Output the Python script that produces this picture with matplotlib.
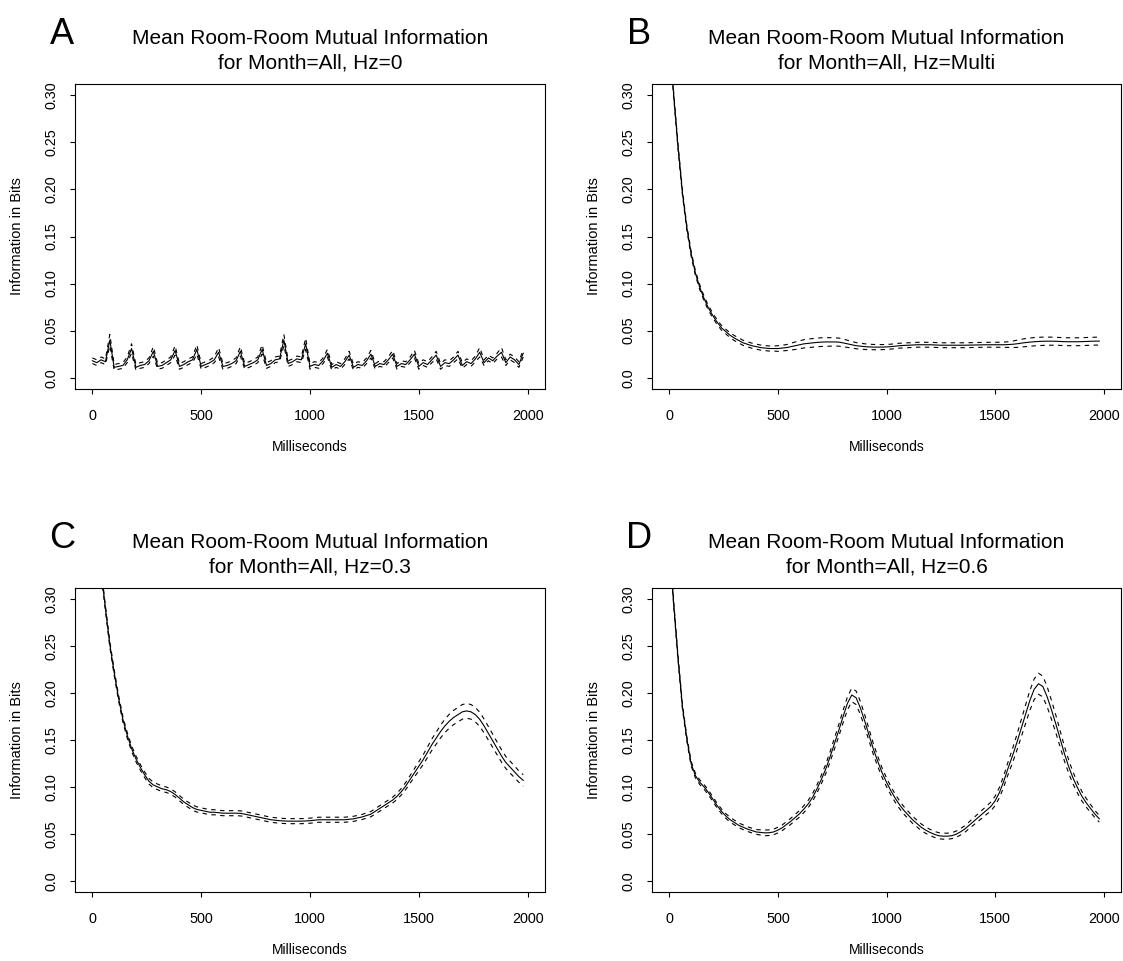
import numpy as np
import matplotlib
matplotlib.use("Agg")
from matplotlib import pyplot as plt

plt.rcParams["font.family"] = ["Liberation Sans", "DejaVu Sans"]

W, H = 1123, 961

# time axis in milliseconds (one sample every 20 ms)
ms = np.arange(0, 2000, 20)

# mean mutual information (bits) per panel, with the half-width of the dashed band
mean_hz0 = [
    0.018, 0.016, 0.019, 0.017, 0.040, 0.011, 0.012, 0.013, 0.019, 0.031,
    0.011, 0.013, 0.014, 0.018, 0.028, 0.012, 0.013, 0.016, 0.019, 0.029,
    0.012, 0.014, 0.017, 0.019, 0.030, 0.012, 0.014, 0.016, 0.019, 0.027,
    0.012, 0.013, 0.015, 0.018, 0.028, 0.012, 0.014, 0.016, 0.019, 0.030,
    0.013, 0.015, 0.019, 0.020, 0.040, 0.015, 0.017, 0.020, 0.019, 0.036,
    0.012, 0.014, 0.013, 0.018, 0.026, 0.011, 0.014, 0.012, 0.017, 0.024,
    0.011, 0.014, 0.013, 0.018, 0.025, 0.012, 0.015, 0.014, 0.019, 0.025,
    0.012, 0.015, 0.014, 0.019, 0.025, 0.012, 0.016, 0.014, 0.019, 0.024,
    0.012, 0.016, 0.015, 0.019, 0.024, 0.013, 0.017, 0.015, 0.020, 0.027,
    0.016, 0.021, 0.018, 0.023, 0.027, 0.016, 0.022, 0.019, 0.014, 0.026,
]
se_hz0 = [
    0.003, 0.003, 0.003, 0.003, 0.006, 0.003, 0.003, 0.003, 0.003, 0.005,
    0.003, 0.003, 0.003, 0.003, 0.005, 0.003, 0.003, 0.003, 0.003, 0.005,
    0.003, 0.003, 0.003, 0.003, 0.005, 0.003, 0.003, 0.003, 0.003, 0.005,
    0.003, 0.003, 0.003, 0.003, 0.005, 0.003, 0.003, 0.003, 0.003, 0.005,
    0.003, 0.003, 0.003, 0.003, 0.006, 0.003, 0.003, 0.003, 0.003, 0.006,
    0.003, 0.003, 0.003, 0.003, 0.004, 0.003, 0.003, 0.003, 0.003, 0.004,
    0.003, 0.003, 0.003, 0.003, 0.004, 0.003, 0.003, 0.003, 0.003, 0.004,
    0.003, 0.003, 0.003, 0.003, 0.004, 0.003, 0.003, 0.003, 0.003, 0.004,
    0.003, 0.003, 0.003, 0.003, 0.004, 0.003, 0.003, 0.003, 0.003, 0.005,
    0.003, 0.003, 0.003, 0.003, 0.005, 0.003, 0.003, 0.003, 0.003, 0.004,
]

mean_multi = [
    0.360, 0.300, 0.245, 0.197, 0.160, 0.132, 0.111, 0.096, 0.084, 0.074,
    0.066, 0.059, 0.053, 0.049, 0.045, 0.042, 0.0395, 0.037, 0.0355, 0.034,
    0.033, 0.032, 0.0315, 0.031, 0.031, 0.031, 0.0315, 0.032, 0.033, 0.034,
    0.035, 0.036, 0.0365, 0.037, 0.0375, 0.0378, 0.038, 0.038, 0.038, 0.0378,
    0.037, 0.036, 0.035, 0.034, 0.0335, 0.033, 0.0327, 0.0325, 0.0325, 0.0325,
    0.0327, 0.033, 0.0335, 0.034, 0.0343, 0.0345, 0.0347, 0.035, 0.035, 0.035,
    0.035, 0.0348, 0.0346, 0.0345, 0.0345, 0.0345, 0.0345, 0.0345, 0.0345, 0.0346,
    0.0347, 0.0348, 0.0349, 0.035, 0.035, 0.035, 0.035, 0.035, 0.0352, 0.0355,
    0.036, 0.0367, 0.0373, 0.0378, 0.0382, 0.0385, 0.0387, 0.0388, 0.0388, 0.0387,
    0.0385, 0.0383, 0.0382, 0.0382, 0.0382, 0.0383, 0.0385, 0.0387, 0.0388, 0.0389,
]
se_multi = [
    0.0025, 0.0025, 0.0025, 0.0025, 0.0025, 0.0025, 0.0025, 0.0025, 0.0025, 0.0025,
    0.0025, 0.0025, 0.0025, 0.0025, 0.0025, 0.0027, 0.0027, 0.0027, 0.0027, 0.0027,
    0.0027, 0.0027, 0.0027, 0.0027, 0.0027, 0.0030, 0.0030, 0.0032, 0.0036, 0.0040,
    0.0042, 0.0044, 0.0045, 0.0046, 0.0046, 0.0046, 0.0046, 0.0045, 0.0044, 0.0043,
    0.0041, 0.0038, 0.0035, 0.0033, 0.0031, 0.0030, 0.0029, 0.0028, 0.0027, 0.0027,
    0.0026, 0.0026, 0.0026, 0.0026, 0.0026, 0.0026, 0.0026, 0.0026, 0.0026, 0.0026,
    0.0026, 0.0026, 0.0026, 0.0026, 0.0026, 0.0026, 0.0026, 0.0026, 0.0026, 0.0026,
    0.0026, 0.0026, 0.0026, 0.0026, 0.0026, 0.0026, 0.0027, 0.0028, 0.0030, 0.0034,
    0.0038, 0.0041, 0.0043, 0.0044, 0.0044, 0.0044, 0.0044, 0.0043, 0.0043, 0.0042,
    0.0042, 0.0042, 0.0042, 0.0042, 0.0042, 0.0042, 0.0042, 0.0042, 0.0042, 0.0042,
]

mean_03 = [
    0.420, 0.375, 0.330, 0.290, 0.252, 0.222, 0.195, 0.172, 0.155, 0.141,
    0.130, 0.121, 0.113, 0.106, 0.102, 0.100, 0.098, 0.097, 0.095, 0.092,
    0.088, 0.084, 0.081, 0.078, 0.076, 0.075, 0.074, 0.073, 0.073, 0.0725,
    0.072, 0.072, 0.072, 0.072, 0.0718, 0.071, 0.070, 0.069, 0.068, 0.067,
    0.066, 0.065, 0.0645, 0.064, 0.0637, 0.0635, 0.0635, 0.0635, 0.0635, 0.0637,
    0.064, 0.0645, 0.065, 0.065, 0.065, 0.065, 0.065, 0.065, 0.065, 0.0655,
    0.066, 0.067, 0.068, 0.0695, 0.071, 0.074, 0.077, 0.080, 0.083, 0.086,
    0.090, 0.095, 0.101, 0.108, 0.115, 0.122, 0.129, 0.137, 0.145, 0.152,
    0.159, 0.165, 0.170, 0.174, 0.177, 0.180, 0.181, 0.180, 0.177, 0.172,
    0.165, 0.157, 0.149, 0.141, 0.133, 0.126, 0.121, 0.116, 0.111, 0.107,
]
se_03 = [
    0.0030, 0.0030, 0.0030, 0.0030, 0.0030, 0.0030, 0.0030, 0.0030, 0.0030, 0.0030,
    0.0030, 0.0030, 0.0030, 0.0030, 0.0030, 0.0030, 0.0030, 0.0029, 0.0029, 0.0028,
    0.0028, 0.0028, 0.0028, 0.0028, 0.0028, 0.0027, 0.0027, 0.0027, 0.0027, 0.0027,
    0.0027, 0.0027, 0.0027, 0.0027, 0.0027, 0.0027, 0.0027, 0.0027, 0.0027, 0.0027,
    0.0027, 0.0027, 0.0027, 0.0027, 0.0027, 0.0027, 0.0027, 0.0027, 0.0027, 0.0027,
    0.0027, 0.0027, 0.0027, 0.0027, 0.0027, 0.0027, 0.0027, 0.0027, 0.0027, 0.0027,
    0.0027, 0.0027, 0.0027, 0.0028, 0.0028, 0.0029, 0.0029, 0.0030, 0.0030, 0.0031,
    0.0033, 0.0035, 0.0038, 0.0041, 0.0044, 0.0048, 0.0052, 0.0056, 0.0060, 0.0064,
    0.0068, 0.0071, 0.0074, 0.0076, 0.0077, 0.0078, 0.0078, 0.0078, 0.0077, 0.0076,
    0.0074, 0.0072, 0.0070, 0.0068, 0.0066, 0.0064, 0.0063, 0.0062, 0.0061, 0.0060,
]

mean_06 = [
    0.360, 0.295, 0.237, 0.186, 0.152, 0.125, 0.112, 0.105, 0.100, 0.094,
    0.087, 0.080, 0.074, 0.069, 0.065, 0.062, 0.059, 0.057, 0.055, 0.0535,
    0.052, 0.0515, 0.051, 0.0512, 0.052, 0.054, 0.0565, 0.060, 0.0635, 0.0675,
    0.0715, 0.0765, 0.082, 0.089, 0.098, 0.108, 0.119, 0.132, 0.146, 0.160,
    0.175, 0.189, 0.198, 0.195, 0.184, 0.170, 0.155, 0.140, 0.127, 0.115,
    0.105, 0.096, 0.088, 0.081, 0.075, 0.070, 0.065, 0.061, 0.057, 0.054,
    0.0515, 0.0495, 0.048, 0.0475, 0.0475, 0.048, 0.0495, 0.052, 0.055, 0.059,
    0.063, 0.067, 0.071, 0.075, 0.079, 0.085, 0.094, 0.106, 0.120, 0.133,
    0.147, 0.162, 0.177, 0.192, 0.204, 0.210, 0.207, 0.196, 0.182, 0.167,
    0.151, 0.135, 0.121, 0.109, 0.099, 0.090, 0.083, 0.077, 0.071, 0.066,
]
se_06 = [
    0.0025, 0.0025, 0.0025, 0.0025, 0.0025, 0.0025, 0.0025, 0.0025, 0.0025, 0.0025,
    0.0025, 0.0025, 0.0025, 0.0025, 0.0025, 0.0025, 0.0025, 0.0025, 0.0025, 0.0025,
    0.0025, 0.0028, 0.0030, 0.0030, 0.0030, 0.0030, 0.0030, 0.0031, 0.0032, 0.0033,
    0.0035, 0.0037, 0.0039, 0.0041, 0.0043, 0.0046, 0.0050, 0.0054, 0.0058, 0.0062,
    0.0066, 0.0069, 0.0072, 0.0072, 0.0070, 0.0066, 0.0062, 0.0058, 0.0054, 0.0050,
    0.0047, 0.0045, 0.0043, 0.0041, 0.0040, 0.0039, 0.0038, 0.0036, 0.0035, 0.0034,
    0.0033, 0.0032, 0.0032, 0.0032, 0.0032, 0.0032, 0.0033, 0.0034, 0.0035, 0.0036,
    0.0038, 0.0040, 0.0042, 0.0044, 0.0047, 0.0050, 0.0055, 0.0060, 0.0067, 0.0075,
    0.0083, 0.0091, 0.0099, 0.0105, 0.0110, 0.0112, 0.0111, 0.0107, 0.0101, 0.0094,
    0.0086, 0.0078, 0.0070, 0.0063, 0.0057, 0.0051, 0.0046, 0.0042, 0.0038, 0.0035,
]

letters = ["A", "B", "C", "D"]
hz_labels = ["0", "Multi", "0.3", "0.6"]
means = [mean_hz0, mean_multi, mean_03, mean_06]
ses = [se_hz0, se_multi, se_03, se_06]

x_ticks = [0, 500, 1000, 1500, 2000]
y_ticks = [0.0, 0.05, 0.10, 0.15, 0.20, 0.25, 0.30]
y_tick_labels = ["0.0", "0.05", "0.10", "0.15", "0.20", "0.25", "0.30"]

# plot boxes in pixels: left, top, right, bottom
boxes = [(75, 84, 545, 389), (652, 84, 1121, 389),
         (75, 588, 545, 892), (652, 588, 1121, 892)]

fig = plt.figure(figsize=(W / 100, H / 100), dpi=100)

for letter, hz, mean, se, box in zip(letters, hz_labels, means, ses, boxes):
    l, t, r, b = box
    ax = fig.add_axes([l / W, 1 - b / H, (r - l) / W, (b - t) / H])
    mean = np.array(mean)
    se = np.array(se)

    ax.plot(ms, mean, color="black", lw=0.8)
    ax.plot(ms, mean + se, color="black", lw=0.8, linestyle=(0, (4, 4)))
    ax.plot(ms, mean - se, color="black", lw=0.8, linestyle=(0, (4, 4)))

    ax.set_xlim(-80, 2080)
    ax.set_ylim(-0.012, 0.312)
    ax.set_xticks(x_ticks)
    ax.set_yticks(y_ticks)
    ax.set_yticklabels(y_tick_labels)
    for lab in ax.get_yticklabels():
        lab.set_rotation(90)
        lab.set_va("center")
    ax.tick_params(axis="x", direction="out", length=3.6, width=0.8, labelsize=10.4, pad=11)
    ax.tick_params(axis="y", direction="out", length=3.6, width=0.8, labelsize=10.4, pad=8.6)
    for sp in ax.spines.values():
        sp.set_linewidth(0.8)

    ax.set_xlabel("Milliseconds", fontsize=10)
    ax.xaxis.set_label_coords(0.5, -58 / (b - t))
    ax.xaxis.label.set_va("center")
    ax.set_ylabel("Information in Bits", fontsize=10.5)
    ax.yaxis.set_label_coords(-58 / (r - l), 0.5)
    ax.yaxis.label.set_va("center")

    ax.text(0.5, 1 + 45 / (b - t), "Mean Room-Room Mutual Information",
            transform=ax.transAxes, ha="center", va="center", fontsize=15)
    ax.text(0.5, 1 + 21 / (b - t), f"for Month=All, Hz={hz}",
            transform=ax.transAxes, ha="center", va="center", fontsize=15)

    fig.text((l - 13) / W, 1 - (t - 50) / H, letter, ha="center", va="center", fontsize=26)

fig.savefig("out.png", dpi=100)
